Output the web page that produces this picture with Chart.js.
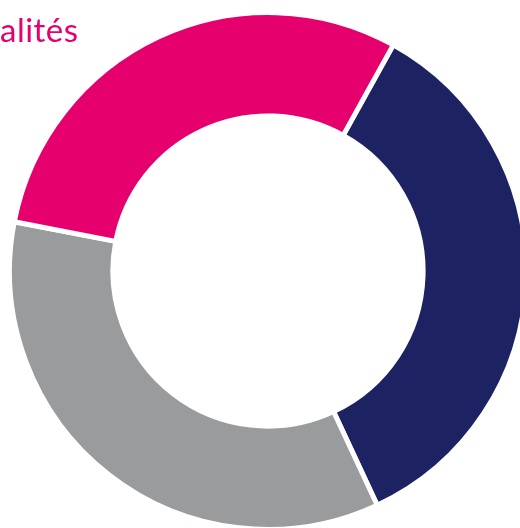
<!DOCTYPE html>
<html>
<head>
<meta charset="utf-8">
<script src="https://cdn.jsdelivr.net/npm/chart.js@4"></script>
<style>
  html, body { margin: 0; padding: 0; width: 520px; height: 528px; overflow: hidden; background: #fff; }
  #title { position: absolute; left: 0; top: 9px; font-family: Lato, "Open Sans", sans-serif; font-size: 33px; letter-spacing: 0.5px; color: #e5006d; z-index: 2; }
  #wrap { position: absolute; left: 7px; top: 10px; width: 522px; height: 522px; }
</style>
</head>
<body>
<div id="title">alités</div>
<div id="wrap"><canvas id="chart"></canvas></div>
<script>
// parts of the ring, clockwise from ~29° past the top
const labels = ['A', 'B', 'C'];
const values = [35, 35, 30];
const colors = ['#1d2362', '#9a9b9d', '#e5006d'];

new Chart(document.getElementById('chart'), {
  type: 'doughnut',
  data: {
    labels: labels,
    datasets: [{ data: values, backgroundColor: colors, borderColor: '#fff', borderWidth: 5, hoverOffset: 0 }]
  },
  options: {
    responsive: true, maintainAspectRatio: false, animation: false,
    cutout: '60%', rotation: 29,
    layout: { padding: 0 },
    plugins: { legend: { display: false }, tooltip: { enabled: false }, title: { display: false } }
  }
});
</script>
</body>
</html>
